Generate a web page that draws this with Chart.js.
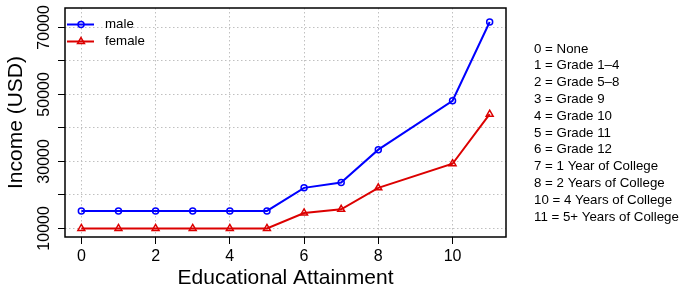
<!DOCTYPE html>
<html>
<head>
<meta charset="utf-8">
<script src="https://cdn.jsdelivr.net/npm/chart.js@4"></script>
<style>
  html, body { margin: 0; padding: 0; background: #fff; }
  canvas { display: block; }
</style>
</head>
<body>
<canvas id="incomeChart" width="686" height="294"></canvas>
<script>
// income by educational attainment
const levels = [0, 1, 2, 3, 4, 5, 6, 7, 8, 10, 11];
const maleIncome = [15200, 15200, 15200, 15200, 15200, 15200, 22100, 23700, 33500, 48100, 71600];
const femaleIncome = [10000, 10000, 10000, 10000, 10000, 10000, 14600, 15700, 22100, 29300, 44100];
const xTicks = [0, 2, 4, 6, 8, 10];
const yTicks = [10000, 20000, 30000, 40000, 50000, 60000, 70000];
const yTickLabels = [10000, 30000, 50000, 70000];
const codeLabels = ["0 = None", "1 = Grade 1\u20134", "2 = Grade 5\u20138", "3 = Grade 9", "4 = Grade 10",
    "5 = Grade 11", "6 = Grade 12", "7 = 1 Year of College", "8 = 2 Years of College",
    "10 = 4 Years of College", "11 = 5+ Years of College"];

const FONT = '"Liberation Sans", Arial, Helvetica, sans-serif';
const BLUE = '#0000ff';
const RED = '#dc0000';
const GRID = '#c0c0c0';

const toPoints = (ys) => levels.map((x, i) => ({ x: x, y: ys[i] }));

// frame, rotated y labels, inset legend and the code list on the right
const overlay = {
    id: 'overlay',
    afterDraw(chart) {
        const { ctx, chartArea: a, scales } = chart;
        ctx.save();
        ctx.strokeStyle = '#000';
        ctx.lineWidth = 1.5;
        ctx.strokeRect(a.left, a.top, a.right - a.left, a.bottom - a.top);

        ctx.fillStyle = '#000';
        ctx.font = '16px ' + FONT;
        ctx.textAlign = 'center';
        ctx.textBaseline = 'middle';
        yTickLabels.forEach(v => {
            const y = scales.y.getPixelForValue(v);
            ctx.save();
            ctx.translate(45, y);
            ctx.rotate(-Math.PI / 2);
            ctx.fillText(String(v), 0, 0);
            ctx.restore();
        });

        // legend
        const rows = [
            { label: 'male', color: BLUE, style: 'circle', r: 3 },
            { label: 'female', color: RED, style: 'triangle', r: 4 }
        ];
        ctx.font = '13.3px ' + FONT;
        ctx.textAlign = 'left';
        rows.forEach((row, i) => {
            const y = a.top + 16.5 + i * 17;
            ctx.strokeStyle = row.color;
            ctx.lineWidth = 2;
            ctx.beginPath();
            ctx.moveTo(a.left + 2, y);
            ctx.lineTo(a.left + 29, y);
            ctx.stroke();
            ctx.fillStyle = 'rgba(0,0,0,0)';
            ctx.lineWidth = 1.5;
            Chart.helpers.drawPoint(ctx, { pointStyle: row.style, radius: row.r, borderWidth: 1.5, rotation: 0 }, a.left + 16, y);
            ctx.fillStyle = '#000';
            ctx.fillText(row.label, a.left + 40, y);
        });

        codeLabels.forEach((t, i) => {
            ctx.fillText(t, 534, 49 + i * 16.8);
        });
        ctx.restore();
    }
};

new Chart(document.getElementById('incomeChart').getContext('2d'), {
    type: 'line',
    data: {
        datasets: [
            {
                label: 'male',
                data: toPoints(maleIncome),
                borderColor: BLUE,
                borderWidth: 2,
                pointStyle: 'circle',
                pointRadius: 3,
                pointBorderWidth: 1.5,
                pointBorderColor: BLUE,
                pointBackgroundColor: 'rgba(0,0,0,0)',
                tension: 0
            },
            {
                label: 'female',
                data: toPoints(femaleIncome),
                borderColor: RED,
                borderWidth: 2,
                pointStyle: 'triangle',
                pointRadius: 4,
                pointBorderWidth: 1.5,
                pointBorderColor: RED,
                pointBackgroundColor: 'rgba(0,0,0,0)',
                tension: 0
            }
        ]
    },
    options: {
        responsive: false,
        animation: false,
        devicePixelRatio: 1,
        layout: { padding: { top: 8, right: 180, left: 0, bottom: 0 } },
        plugins: { legend: { display: false }, tooltip: { enabled: false } },
        scales: {
            x: {
                type: 'linear',
                min: -0.44,
                max: 11.44,
                afterBuildTicks(scale) { scale.ticks = xTicks.map(v => ({ value: v })); },
                afterFit(scale) { scale.height = 57; },
                ticks: {
                    color: '#000',
                    font: { family: FONT, size: 16 },
                    padding: 3,
                    maxRotation: 0,
                    autoSkip: false
                },
                grid: {
                    color: GRID,
                    lineWidth: 1,
                    tickLength: 7,
                    tickColor: '#000',
                    tickWidth: 1
                },
                border: { display: false, dash: [1.5, 2.5] },
                title: {
                    display: true,
                    text: 'Educational Attainment',
                    color: '#000',
                    font: { family: FONT, size: 21 },
                    padding: { top: 0, bottom: 3 }
                }
            },
            y: {
                type: 'linear',
                min: 7430,
                max: 75790,
                afterBuildTicks(scale) { scale.ticks = yTicks.map(v => ({ value: v })); },
                afterFit(scale) { scale.width = 65; },
                ticks: {
                    display: false,
                    autoSkip: false
                },
                grid: {
                    color: GRID,
                    lineWidth: 1,
                    tickLength: 7,
                    tickColor: '#000',
                    tickWidth: 1
                },
                border: { display: false, dash: [1.5, 2.5] },
                title: {
                    display: true,
                    text: 'Income (USD)',
                    color: '#000',
                    font: { family: FONT, size: 21 },
                    padding: { top: 4, bottom: 0 }
                }
            }
        }
    },
    plugins: [overlay]
});
</script>
</body>
</html>
